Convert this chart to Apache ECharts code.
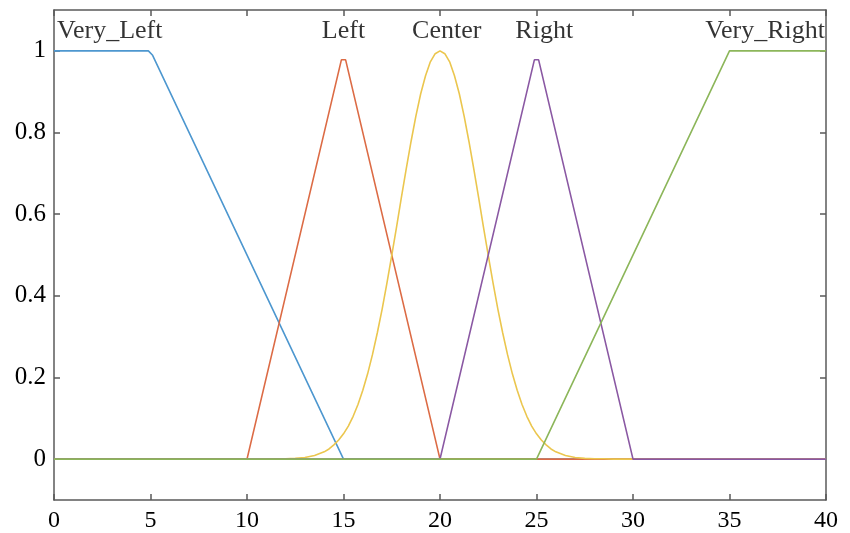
<!DOCTYPE html>
<html>
<head>
<meta charset="utf-8">
<script src="https://cdn.jsdelivr.net/npm/echarts@6/dist/echarts.min.js"></script>
<style>html,body{margin:0;padding:0;background:#fff}#c{width:850px;height:533px}</style>
</head>
<body>
<div id="c"></div>
<script>
// Membership function curves: [x, membership]
const veryLeft  = [[0,1],[4.89,1],[5.11,0.989],[15,0],[40,0]];
const left      = [[0,0],[10,0],[14.89,0.978],[15.11,0.978],[20,0],[40,0]];
const right     = [[0,0],[20,0],[24.89,0.978],[25.11,0.978],[30,0],[40,0]];
const veryRight = [[0,0],[25,0],[35,1],[40,1]];
// Center (bell curve around x=20)
const centerX = [0,10,11,11.5,12,12.5,13,13.5,14,
                 14.25,14.5,14.75,15,15.25,15.5,15.75,16,16.25,16.5,16.75,17,17.25,17.5,17.75,18,18.25,18.5,18.75,19,19.25,19.5,19.75,20,
                 20.25,20.5,20.75,21,21.25,21.5,21.75,22,22.25,22.5,22.75,23,23.25,23.5,23.75,24,24.25,24.5,24.75,25,25.25,25.5,25.75,26,
                 26.5,27,27.5,28,28.5,29,30,40];
const centerY = [0,0,0,0.001,0.001,0.002,0.004,0.009,0.018,
                 0.025,0.035,0.047,0.062,0.081,0.105,0.134,0.169,0.209,0.256,0.309,0.367,0.431,0.499,0.569,0.641,0.711,0.778,0.840,0.895,0.939,0.973,0.993,1,
                 0.993,0.973,0.939,0.895,0.840,0.778,0.711,0.641,0.569,0.499,0.431,0.367,0.309,0.256,0.209,0.169,0.134,0.105,0.081,0.062,0.047,0.035,0.025,0.018,
                 0.009,0.004,0.002,0.001,0.001,0,0,0];
const xTicks = [0,5,10,15,20,25,30,35,40];
const yTicks = [0,0.2,0.4,0.6,0.8,1];
const mfNames  = ['Very_Left','Left','Center','Right','Very_Right'];
const nameX    = [0.16,15,20.35,25.4,39.95];
const nameY    = [1.048,1.048,1.048,1.048,1.048];
const nameAlign= ['left','center','center','center','right'];
const colors = ['#4d97cf','#dc6b45','#ebc64e','#8a58a3','#8cb65a'];

const centerData = centerX.map((x,i)=>[x,centerY[i]]);
const FONT = '"Liberation Serif","DejaVu Serif",serif';
const axisLineStyle = {color:'#5a5a5a', width:1.5};

const chart = echarts.init(document.getElementById('c'), null, {renderer:'canvas'});
const lineSeries = (name, data, color) => ({
  type:'line', name, data, xAxisIndex:0, yAxisIndex:0,
  showSymbol:false, symbol:'none', smooth:false,
  lineStyle:{color, width:1.6}, animation:false
});
chart.setOption({
  animation:false,
  backgroundColor:'#fff',
  grid:{left:54, right:24, top:10, bottom:33, containLabel:false},
  xAxis:[
    {type:'value', min:0, max:40, interval:5, position:'bottom',
     axisLine:{show:true, onZero:false, lineStyle:axisLineStyle},
     axisTick:{show:true, inside:true, length:6, lineStyle:axisLineStyle},
     axisLabel:{color:'#000', fontFamily:FONT, fontSize:24, margin:9,
       customValues:xTicks, formatter:v=>String(v)},
     splitLine:{show:false}},
    {type:'value', min:0, max:40, interval:5, position:'top',
     axisLine:{show:true, onZero:false, lineStyle:axisLineStyle},
     axisTick:{show:true, inside:true, length:6, lineStyle:axisLineStyle},
     axisLabel:{show:false}, splitLine:{show:false}}
  ],
  yAxis:[
    {type:'value', min:-0.1, max:1.1, position:'left',
     axisLine:{show:true, onZero:false, lineStyle:axisLineStyle},
     axisTick:{show:true, inside:true, length:6, lineStyle:axisLineStyle, customValues:yTicks},
     axisLabel:{color:'#000', fontFamily:FONT, fontSize:25, margin:8, customValues:yTicks,
       formatter:v=>String(Math.round(v*10)/10)},
     splitLine:{show:false}},
    {type:'value', min:-0.1, max:1.1, position:'right',
     axisLine:{show:true, onZero:false, lineStyle:axisLineStyle},
     axisTick:{show:true, inside:true, length:6, lineStyle:axisLineStyle, customValues:yTicks},
     axisLabel:{show:false}, splitLine:{show:false}}
  ],
  series:[
    lineSeries('Very_Left', veryLeft, colors[0]),
    lineSeries('Left', left, colors[1]),
    lineSeries('Center', centerData, colors[2]),
    lineSeries('Right', right, colors[3]),
    lineSeries('Very_Right', veryRight, colors[4]),
    {type:'scatter', xAxisIndex:0, yAxisIndex:0, symbolSize:1,
     itemStyle:{color:'rgba(0,0,0,0)'}, silent:true,
     data: mfNames.map((nm,i)=>({value:[nameX[i], nameY[i]],
       label:{show:true, position:'inside', formatter:nm, align:nameAlign[i], verticalAlign:'middle',
         color:'#000', fontFamily:FONT, fontSize:26}}))}
  ]
});
</script>
</body>
</html>
